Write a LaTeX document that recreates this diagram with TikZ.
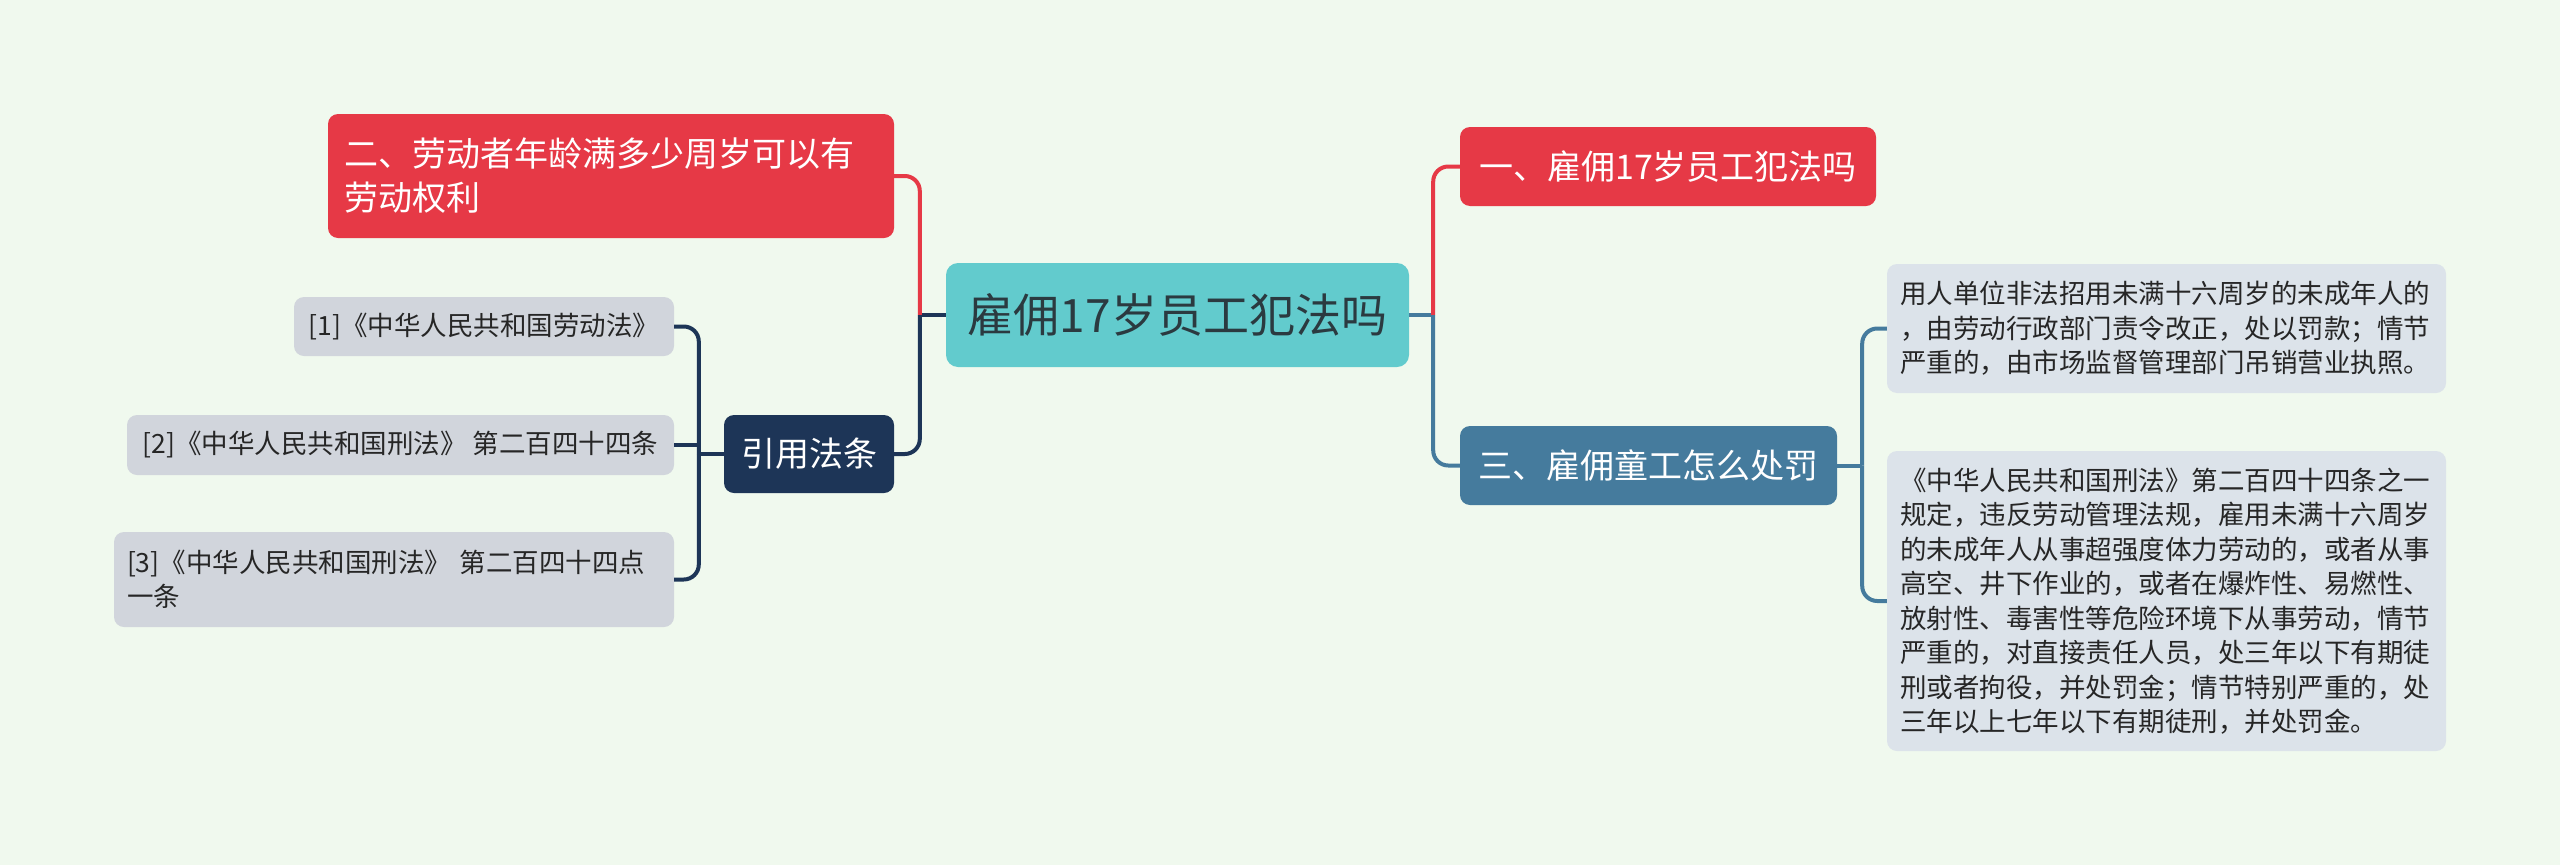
\documentclass[tikz,border=0pt]{standalone}
\usepackage{fontspec}
\setmainfont{Noto Sans CJK SC}
\definecolor{cbg}{HTML}{F0F9EE}
\definecolor{cteal}{HTML}{62CBCD}
\definecolor{cred}{HTML}{E63946}
\definecolor{cnavy}{HTML}{1D3557}
\definecolor{csteel}{HTML}{457B9D}
\definecolor{cgrey}{HTML}{D1D5DC}
\definecolor{cpale}{HTML}{DCE3EA}
\definecolor{cink}{HTML}{2B3A40}
\tikzset{
  pxgrid/.style={x=1pt,y=-1pt},
  topic/.style={rounded corners=12pt,fill=cteal,text=cink,minimum width=463pt,minimum height=104pt,font=\fontsize{46}{56}\selectfont},
  branch/.style={rounded corners=10pt,text=white,minimum height=79pt,inner xsep=16pt,font=\fontsize{34}{44}\selectfont},
  leaf/.style={rounded corners=10pt,text=black!85,inner xsep=13pt,font=\fontsize{26.5}{34.5}\selectfont},
  link/.style={line width=4pt,rounded corners=15pt},
}

\begin{document}
\begin{tikzpicture}[pxgrid]
    % canvas 2560 x 865
    \fill[cbg] (0,0) rectangle (2560,865);
    \useasboundingbox (0,0) rectangle (2560,865);
    \node[topic] (root) at (1177.5,315) {雇佣17岁员工犯法吗};
    \node[branch,fill=cred,minimum width=416pt] (q1) at (1668,166.5) {一、雇佣17岁员工犯法吗};
    \node[branch,fill=csteel,minimum width=377pt] (q3) at (1648.5,465.5) {三、雇佣童工怎么处罚};
    \node[branch,fill=cred,minimum height=124pt,text width=534pt,align=left] (q2) at (611,176) {二、劳动者年龄满多少周岁可以有\\劳动权利};
    \node[branch,fill=cnavy,minimum width=170pt,minimum height=78pt,inner xsep=8pt] (cite) at (809,454) {引用法条};
    \node[leaf,fill=cgrey,minimum width=380pt,minimum height=59pt] (r1) at (484,326.5) {[1]《中华人民共和国劳动法》};
    \node[leaf,fill=cgrey,minimum width=547pt,minimum height=60pt] (r2) at (400.5,445) {[2]《中华人民共和国刑法》 第二百四十四条};
    \node[leaf,fill=cgrey,text width=534pt,minimum height=95pt,align=left] (r3) at (394,579.5) {[3]《中华人民共和国刑法》 第二百四十四点\\一条};
    \node[leaf,fill=cpale,text width=533pt,minimum height=129pt,align=left] (b1) at (2166.5,328.5) {用人单位非法招用未满十六周岁的未成年人的\\，由劳动行政部门责令改正，处以罚款；情节\\严重的，由市场监督管理部门吊销营业执照。};
    \node[leaf,fill=cpale,text width=533pt,minimum height=300pt,align=left] (b2) at (2166.5,601) {《中华人民共和国刑法》第二百四十四条之一\\规定，违反劳动管理法规，雇用未满十六周岁\\的未成年人从事超强度体力劳动的，或者从事\\高空、井下作业的，或者在爆炸性、易燃性、\\放射性、毒害性等危险环境下从事劳动，情节\\严重的，对直接责任人员，处三年以下有期徒\\刑或者拘役，并处罚金；情节特别严重的，处\\三年以上七年以下有期徒刑，并处罚金。};
    % right side
    \coordinate (rj) at ([xshift=24pt]root.east);
    \draw[link,csteel] (root.east) -- (rj);
    \draw[link,cred] (rj) |- (q1.west);
    \draw[link,csteel] (rj) |- (q3.west);
    \coordinate (tj) at ([xshift=25pt]q3.east);
    \draw[link,csteel] (q3.east) -- (tj);
    \foreach \b in {b1,b2} \draw[link,csteel] (tj) |- (\b.west);
    % left side
    \coordinate (lj) at ([xshift=-26pt]root.west);
    \draw[link,cnavy] (root.west) -- (lj);
    \draw[link,cred] (lj) |- (q2.east);
    \draw[link,cnavy] (lj) |- (cite.east);
    \coordinate (cj) at ([xshift=-25pt]cite.west);
    \draw[link,cnavy] (cite.west) -- (cj);
    \foreach \r in {r1,r3} \draw[link,cnavy] (cj) |- (\r.east);
    \draw[link,cnavy,sharp corners] (cj) |- (r2.east);
\end{tikzpicture}
\end{document}
